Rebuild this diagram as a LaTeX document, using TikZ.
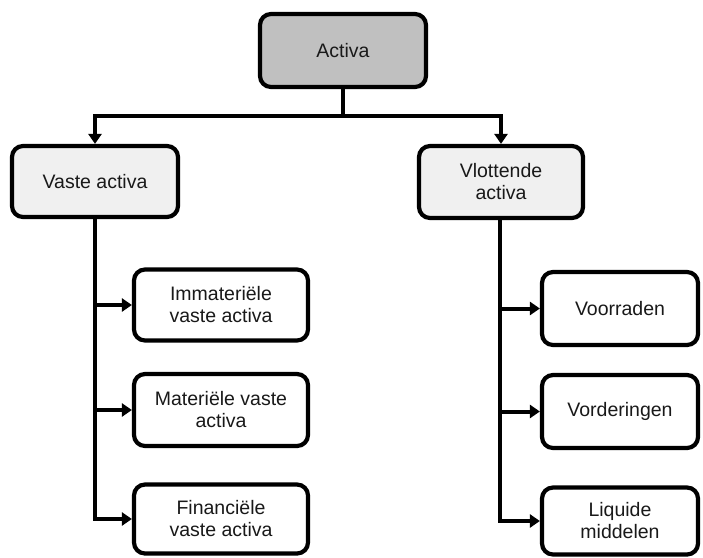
\documentclass[tikz,border=0pt]{standalone}
\usepackage{fontspec}
\setmainfont{Liberation Sans}
\usetikzlibrary{arrows.meta}
\definecolor{rootgray}{HTML}{C0C0C0}
\definecolor{branchgray}{HTML}{F0F0F0}
\begin{document}
\begin{tikzpicture}[x=1pt,y=-1pt,
  box/.style={draw=black, line width=4.2pt, rounded corners=11pt, align=center,
    font=\fontsize{19.5}{22}\selectfont, text=black!90, inner sep=0pt},
  rootbox/.style={box, fill=rootgray},
  branchbox/.style={box, fill=branchgray},
  leafbox/.style={box, fill=white},
  link/.style={draw=black, line width=4pt},
  arrowlink/.style={link, -{Triangle[length=10pt,width=13pt]}}]
  \useasboundingbox (0,0) rectangle (703,557);

  % root
  \node[rootbox, minimum width=166pt, minimum height=73pt] (act) at (343,50.5) {Activa};
  \coordinate (j) at (343,116);

  % second level
  \node[branchbox, minimum width=166pt, minimum height=71pt] (vaste) at (95,181.5) {Vaste activa};
  \node[branchbox, minimum width=164pt, minimum height=72pt] (vlot) at (501,182) {Vlottende\\activa};

  % left leaves
  \node[leafbox, minimum width=174pt, minimum height=71pt] (imm) at (221,305) {Immateriële\\vaste activa};
  \node[leafbox, minimum width=174pt, minimum height=72pt] (mat) at (221,410) {Materiële vaste\\activa};
  \node[leafbox, minimum width=174pt, minimum height=69pt] (fin) at (221,519) {Financiële\\vaste activa};

  % right leaves
  \node[leafbox, minimum width=156pt, minimum height=73pt] (voor) at (620,308.5) {Voorraden};
  \node[leafbox, minimum width=156pt, minimum height=73pt] (vord) at (620,411.5) {Vorderingen};
  \node[leafbox, minimum width=156pt, minimum height=67pt] (liq) at (620,521) {Liquide\\middelen};

  % connectors
  \draw[link] (act.south) -- (j);
  \draw[arrowlink] (j) -| (vaste.north);
  \draw[arrowlink] (j) -| (vlot.north);

  \draw[arrowlink] (vaste.south) |- (imm.west);
  \draw[arrowlink] (vaste.south) |- (mat.west);
  \draw[arrowlink] (vaste.south) |- (fin.west);

  \draw[arrowlink] ([xshift=-1pt]vlot.south) |- (voor.west);
  \draw[arrowlink] ([xshift=-1pt]vlot.south) |- (vord.west);
  \draw[arrowlink] ([xshift=-1pt]vlot.south) |- (liq.west);
\end{tikzpicture}
\end{document}
